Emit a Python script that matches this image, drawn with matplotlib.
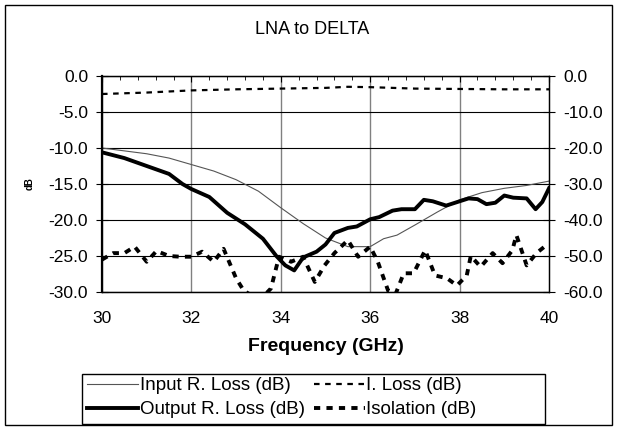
import numpy as np
import matplotlib
matplotlib.use("Agg")
import matplotlib.pyplot as plt
from matplotlib.patches import Rectangle
from matplotlib.ticker import MultipleLocator, FormatStrFormatter

plt.rcParams['font.family'] = ['Liberation Sans', 'DejaVu Sans']

# Input return loss (left axis, dB)
f_in = [30, 30.5, 31, 31.5, 32, 32.5, 33, 33.5, 34, 34.5, 35, 35.5, 36,
        36.3, 36.6, 37, 37.5, 38, 38.5, 39, 39.5, 40]
input_rl = [-10.0, -10.4, -10.8, -11.4, -12.3, -13.2, -14.4, -16.0, -18.3,
            -20.5, -22.5, -23.7, -23.7, -22.6, -22.1, -20.7, -18.9, -17.2,
            -16.2, -15.6, -15.2, -14.6]

# Output return loss (left axis, dB)
f_out = [30, 30.5, 31, 31.5, 31.8, 32, 32.4, 32.8, 33.2, 33.6, 33.9, 34.1,
         34.3, 34.5, 34.8, 35.0, 35.2, 35.5, 35.7, 36.0, 36.2, 36.5, 36.7,
         37.0, 37.2, 37.4, 37.7, 38.0, 38.2, 38.4, 38.6, 38.8, 39.0, 39.2,
         39.5, 39.7, 39.85, 40.0]
output_rl = [-10.6, -11.4, -12.5, -13.6, -15.0, -15.7, -16.8, -19.0, -20.6,
             -22.6, -25.0, -26.3, -27.0, -25.2, -24.4, -23.4, -21.8, -21.1,
             -20.9, -19.9, -19.6, -18.7, -18.5, -18.5, -17.2, -17.4, -18.0,
             -17.4, -17.0, -17.1, -17.8, -17.6, -16.6, -16.9, -17.0, -18.5,
             -17.5, -15.6]

# Insertion loss (left axis, dB)
f_il = [30, 31, 32, 33, 34, 35, 35.5, 36, 37, 38, 39, 40]
i_loss = [-2.5, -2.3, -2.0, -1.85, -1.75, -1.65, -1.5, -1.55, -1.75, -1.8,
          -1.85, -1.85]

# Isolation (right axis, dB)
f_iso = [30.0, 30.25, 30.5, 30.73, 31.0, 31.22, 31.5, 31.75, 32.0, 32.24,
         32.5, 32.72, 33.0, 33.17, 33.35, 33.55, 33.78, 33.96, 34.23, 34.5,
         34.76, 34.98, 35.2, 35.5, 35.73, 36.0, 36.17, 36.4, 36.57, 36.75,
         36.97, 37.23, 37.45, 37.72, 37.94, 38.16, 38.25, 38.47, 38.74, 38.96,
         39.18, 39.27, 39.5, 39.72, 39.94, 40.0]
isolation = [-51, -49.2, -49.2, -47.4, -51.6, -48.6, -50, -50.2, -50.2, -48.8,
             -51.6, -48, -56.2, -59.6, -61, -62, -59, -50.2, -51.6, -50.2,
             -57.2, -52.6, -49.2, -45.6, -50.2, -47.4, -51.6, -59.6, -60.5,
             -54.8, -54.8, -48.4, -55.4, -56.2, -58.2, -55.4, -50, -53, -49.2,
             -52, -48.4, -44.2, -52.6, -49.2, -47, -47]

W, H = 617, 430
fig = plt.figure(figsize=(W / 100, H / 100), dpi=100)
# outer chart border
fig.patches.append(Rectangle((5 / W, 5 / H), 607 / W, 420 / H,
                             transform=fig.transFigure, fill=False,
                             edgecolor='black', linewidth=1))
# legend border (wider than its content, like the original)
fig.patches.append(Rectangle((82 / W, 1 - 424 / H), 463 / W, 50 / H,
                             transform=fig.transFigure, fill=False,
                             edgecolor='black', linewidth=1))

ax = fig.add_axes([102 / W, 1 - 292 / H, 447 / W, 216 / H])
ax2 = ax.twinx()

l1, = ax.plot(f_in, input_rl, color='#555555', lw=0.8)
l2, = ax.plot(f_out, output_rl, color='black', lw=2.8)
l3, = ax.plot(f_il, i_loss, color='black', lw=1.6, dashes=(2.5, 2.5))
l4, = ax2.plot(f_iso, isolation, color='black', lw=2.8, dashes=(1.6, 1.6))

ax.set_xlim(30, 40)
ax.set_ylim(-30, 0)
ax2.set_ylim(-60, 0)
ax.xaxis.set_major_locator(MultipleLocator(2))
ax.xaxis.set_minor_locator(MultipleLocator(0.4))
ax.yaxis.set_major_locator(MultipleLocator(5))
ax2.yaxis.set_major_locator(MultipleLocator(10))
ax.yaxis.set_major_formatter(FormatStrFormatter('%.1f'))
ax2.yaxis.set_major_formatter(FormatStrFormatter('%.1f'))

ax.grid(True, axis='y', color='black', lw=0.8)
ax.set_axisbelow(True)
for x in [32, 34, 36, 38]:
    ax.axvline(x, color='#808080', lw=1, zorder=0.5)

ax.tick_params(axis='x', which='both', bottom=False, top=True,
               labelbottom=True, labeltop=False, direction='in',
               labelsize=12.5, pad=14)
ax.tick_params(axis='x', which='major', length=4)
ax.tick_params(axis='x', which='minor', length=3)
ax.tick_params(axis='y', direction='inout', length=8, labelsize=12.5,
               right=False, pad=6)
ax2.tick_params(axis='y', direction='inout', length=8, labelsize=12.5, pad=6)

for sp in ['top', 'right', 'bottom']:
    ax.spines[sp].set_linewidth(0.9)
ax.spines['left'].set_linewidth(1.6)
for sp in ax2.spines.values():
    sp.set_linewidth(0.9)

ax.set_xlabel('Frequency (GHz)', fontsize=14, fontweight='bold', labelpad=8)
ax.set_ylabel('dB', fontsize=7, fontweight='bold', labelpad=10)

fig.text(312.5 / W, 1 - 30 / H, 'LNA to DELTA', ha='center', va='center',
         fontsize=13)

leg = fig.legend([l1, l2, l3, l4],
                 ['Input R. Loss (dB)', 'Output R. Loss (dB)',
                  'I. Loss (dB)', 'Isolation (dB)'],
                 ncol=2, loc='upper left', bbox_to_anchor=(87 / W, 1 - 377 / H),
                 fontsize=13.5, frameon=False, borderpad=0, borderaxespad=0,
                 handlelength=2.7, handletextpad=0.1, columnspacing=0.5,
                 labelspacing=0.38)

fig.savefig('out.png', dpi=100)
